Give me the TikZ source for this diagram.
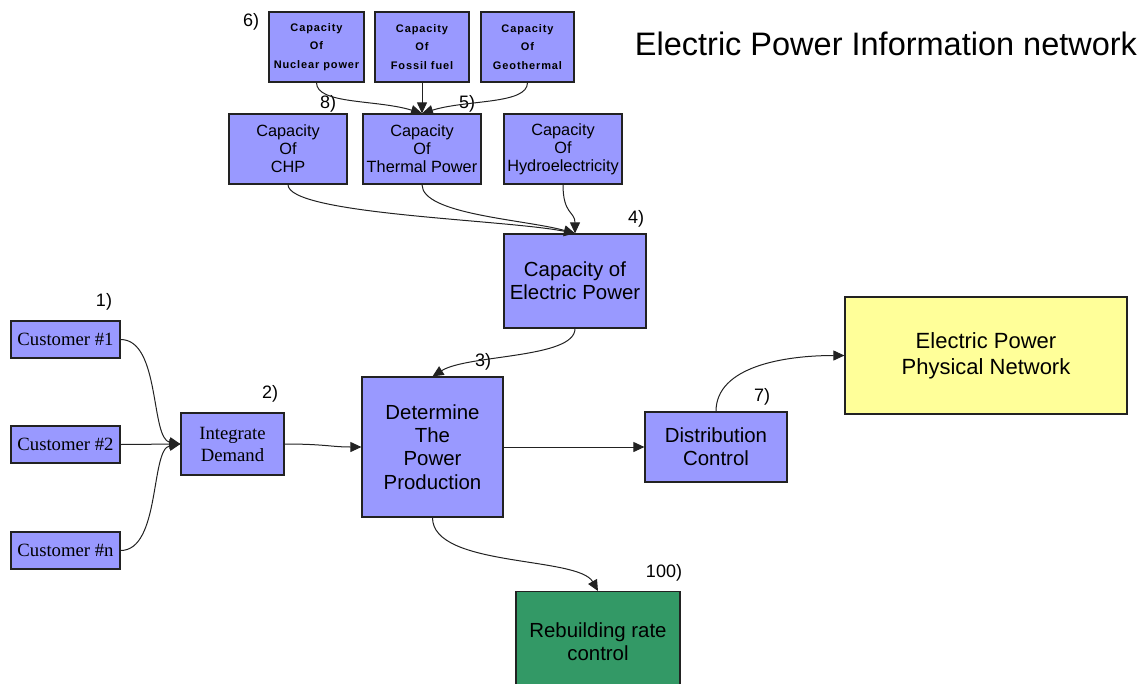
\documentclass[tikz,border=0pt]{standalone}
\usepackage{fontspec}
\setmainfont{Liberation Sans}
\newfontfamily\serifface{Liberation Serif}
\usetikzlibrary{arrows.meta}
\definecolor{boxblue}{HTML}{9999FF}
\definecolor{boxyellow}{HTML}{FFFF99}
\definecolor{boxgreen}{HTML}{339966}
\definecolor{edge}{HTML}{222222}
\tikzset{
  bx/.style={draw=edge, line width=1.2pt, fill=boxblue, inner sep=0pt, align=center},
  tiny/.style={bx, font=\fontsize{11}{18.5}\selectfont\bfseries\addfontfeature{LetterSpace=8}},
  mid/.style={bx, font=\fontsize{16.3}{18}\selectfont},
  cust/.style={bx, font=\serifface\fontsize{18.7}{22}\selectfont},
  big/.style={bx, font=\fontsize{20.4}{23.3}\selectfont},
  num/.style={inner sep=0pt, font=\fontsize{18}{20}\selectfont},
  conn/.style={draw=edge, line width=1pt, -{Triangle[length=11pt,width=10pt]}},
}
\begin{document}
\begin{tikzpicture}[x=1pt,y=-1pt]
\useasboundingbox (0,0) rectangle (1141,683);
% top row
\node[tiny, minimum width=95, minimum height=70] (nuc) at (316.5,47) {Capacity\\Of\\Nuclear power};
\node[tiny, minimum width=94, minimum height=70] (fos) at (422,47) {Capacity\\Of\\Fossil fuel};
\node[tiny, minimum width=93, minimum height=70] (geo) at (527.5,47) {Capacity\\Of\\Geothermal};
% second row
\node[mid, minimum width=118, minimum height=70] (chp) at (288,149) {Capacity\\Of\\CHP};
\node[mid, minimum width=118, minimum height=70] (thm) at (422,149) {Capacity\\Of\\Thermal Power};
\node[mid, minimum width=118, minimum height=70] (hyd) at (563,149) {Capacity\\Of\\Hydroelectricity};
% capacity of electric power
\node[big, minimum width=142, minimum height=94] (cep) at (575,281) {Capacity of\\Electric Power};
% customers
\node[cust, minimum width=109, minimum height=37] (c1) at (65.5,339.5) {Customer \#1};
\node[cust, minimum width=109, minimum height=37] (c2) at (65.5,444.5) {Customer \#2};
\node[cust, minimum width=109, minimum height=37] (cn) at (65.5,550.5) {Customer \#n};
\node[cust, minimum width=103, minimum height=62] (int) at (232.5,444) {Integrate\\Demand};
% determine
\node[big, minimum width=141, minimum height=140] (det) at (432.5,447) {Determine\\The\\Power\\Production};
% distribution
\node[big, minimum width=142, minimum height=70] (dis) at (716,447) {Distribution\\Control};
% physical network
\node[bx, fill=boxyellow, font=\fontsize{22}{26}\selectfont, minimum width=282, minimum height=117] (phy) at (986,355.5) {Electric Power\\Physical Network};
% rebuilding
\node[bx, fill=boxgreen, font=\fontsize{20.4}{23.3}\selectfont, minimum width=164, minimum height=100, anchor=north] (reb) at (598,591) {Rebuilding rate\\control};
% title
\node[inner sep=0pt, font=\fontsize{32.5}{36}\selectfont] (title) at (886,44) {Electric Power Information network};
% number labels
\node[num] (n6) at (251,22) {6)};
\node[num] (n8) at (328,104) {8)};
\node[num] (n5) at (467,104) {5)};
\node[num] (n4) at (636,219) {4)};
\node[num] (n1) at (104,302) {1)};
\node[num] (n2) at (270,394) {2)};
\node[num] (n3) at (483,362) {3)};
\node[num] (n7) at (762,397) {7)};
\node[num] (n100) at (664,573) {100)};
% connectors
\draw[conn] (nuc.south) .. controls +(0,22) and +(-45,-14) .. (thm.north);
\draw[conn] (fos.south) -- (thm.north);
\draw[conn] (geo.south) .. controls +(0,22) and +(45,-14) .. (thm.north);
\draw[conn] (chp.south) .. controls +(0,30) and +(-70,-14) .. (cep.north);
\draw[conn] (thm.south) .. controls +(0,30) and +(-50,-14) .. (cep.north);
\draw[conn] (hyd.south) .. controls +(0,30) and +(0,-22) .. (cep.north);
\draw[conn] (cep.south) .. controls +(0,30) and +(35,-22) .. (det.north);
\draw[conn] (c1.east) .. controls +(40,0) and +(-30,-5) .. (int.west);
\draw[conn] (c2.east) -- (int.west);
\draw[conn] (cn.east) .. controls +(40,0) and +(-30,5) .. (int.west);
\draw[conn] (int.east) .. controls +(40,0) and +(-30,0) .. (det.west);
\draw[conn] (det.east) -- (dis.west);
\draw[conn] (dis.north) .. controls +(0,-45) and +(-60,0) .. (phy.west);
\draw[conn] (det.south) .. controls +(0,50) and +(-20,-35) .. (reb.north);
\end{tikzpicture}
\end{document}
